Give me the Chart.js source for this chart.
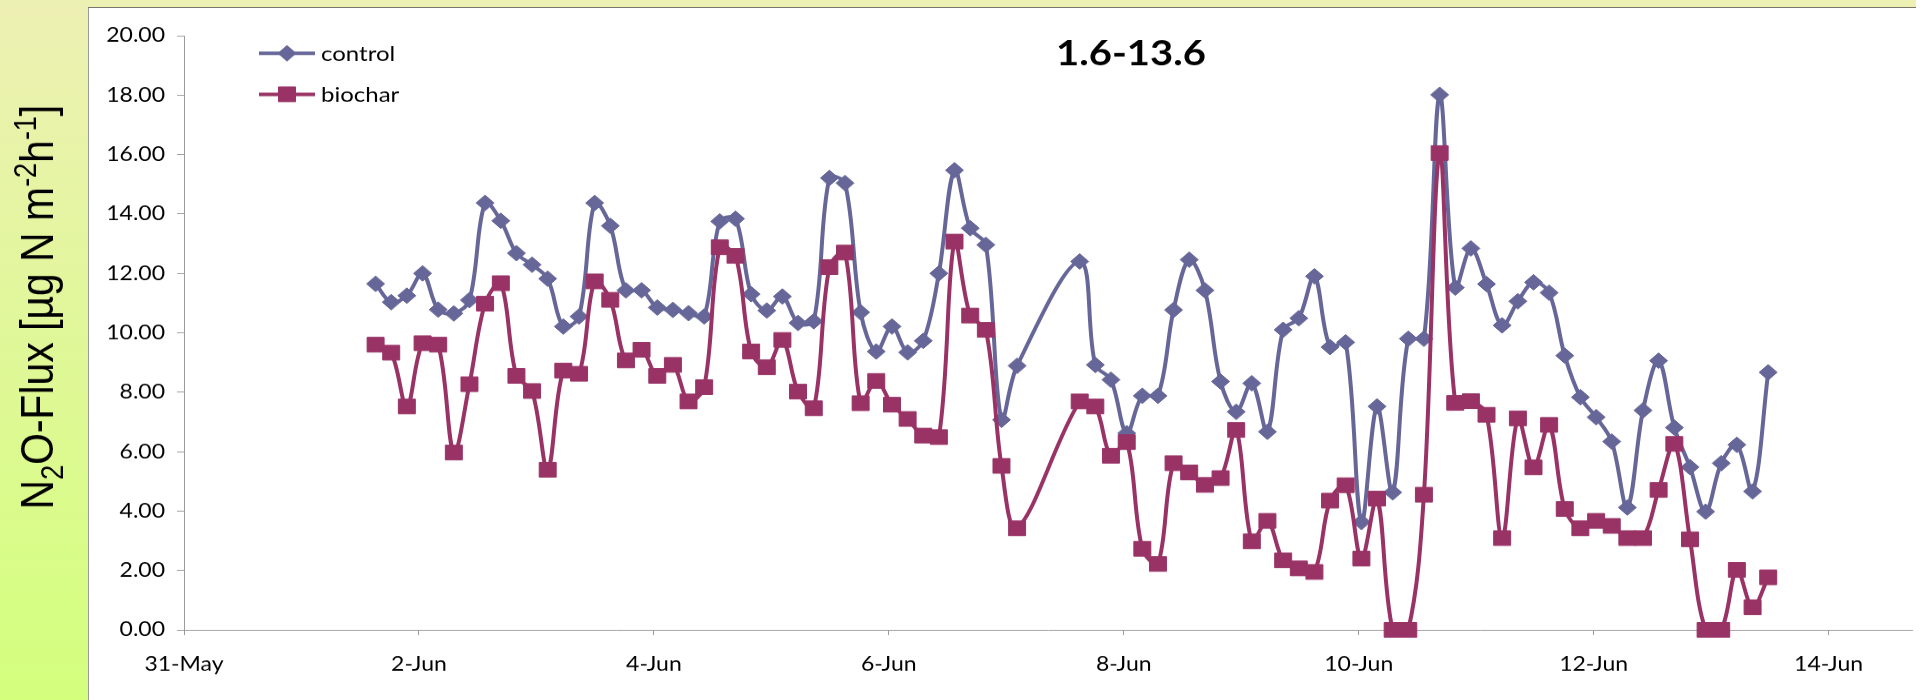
<!DOCTYPE html>
<html>
<head>
<meta charset="utf-8">
<title>N2O flux 1.6-13.6</title>
<script src="https://cdn.jsdelivr.net/npm/chart.js@4.4.1/dist/chart.umd.min.js"></script>
<style>
  html, body { margin: 0; padding: 0; background: #ffffff; width: 1925px; height: 700px; overflow: hidden; }
  #sidePanel { position: absolute; left: 0; top: 0; width: 88px; height: 700px;
               background: linear-gradient(#edf0b3, #d3ff7d); border-right: 1px solid #9a9a9a; }
  #frameTop { position: absolute; left: 88px; top: 0; width: 1828px; height: 7px;
              background: #edf0b3; border-bottom: 1px solid #77776c; }
  /* the plot is laid out on a taller canvas and pressed down to the page height */
  #plotWrap { position: absolute; left: 0; top: 0; width: 1925px; height: 805px;
              transform: scaleY(0.87); transform-origin: 0 0; }
</style>
</head>
<body>
<div id="sidePanel"></div>
<div id="frameTop"></div>
<div id="plotWrap"><canvas id="flux"></canvas></div>
<script>
// Sampling times, in days after 31 May 00:00
const sampleDays = [
  1.631, 1.764, 1.897, 2.031, 2.164, 2.297, 2.430, 2.563, 2.697, 2.830,
  2.963, 3.096, 3.229, 3.363, 3.496, 3.629, 3.762, 3.895, 4.029, 4.162,
  4.295, 4.428, 4.561, 4.695, 4.828, 4.961, 5.094, 5.227, 5.361, 5.494,
  5.627, 5.760, 5.893, 6.027, 6.160, 6.293, 6.426, 6.559, 6.693, 6.826,
  6.959, 7.092, 7.225, 7.359, 7.492, 7.625, 7.758, 7.891, 8.025, 8.158,
  8.291, 8.424, 8.557, 8.691, 8.824, 8.957, 9.090, 9.223, 9.357, 9.490,
  9.623, 9.756, 9.889, 10.023, 10.156, 10.289, 10.422, 10.555, 10.689, 10.822,
  10.955, 11.088, 11.221, 11.355, 11.488, 11.621, 11.754, 11.887, 12.021, 12.154,
  12.287, 12.420, 12.553, 12.687, 12.820, 12.953, 13.086, 13.219, 13.353, 13.486
];

// N2O flux, µg N m-2 h-1 (null = no measurement)
const controlFlux = [
  11.65, 11.03, 11.25, 12.00, 10.78, 10.65, 11.10, 14.37, 13.77, 12.68,
  12.29, 11.82, 10.21, 10.55, 14.37, 13.60, 11.43, 11.43, 10.85, 10.77,
  10.66, 10.55, 13.75, 13.84, 11.30, 10.75, 11.22, 10.33, 10.39, 15.21,
  15.04, 10.69, 9.37, 10.21, 9.34, 9.73, 12.00, 15.47, 13.52, 12.96,
  7.07, 8.89, null, null, null, 12.40, 8.92, 8.42, 6.62, 7.88,
  7.88, 10.77, 12.46, 11.43, 8.36, 7.34, 8.30, 6.67, 10.10, 10.49,
  11.90, 9.52, 9.68, 3.63, 7.52, 4.63, 9.80, 9.80, 18.01, 11.52,
  12.84, 11.64, 10.25, 11.06, 11.70, 11.35, 9.23, 7.83, 7.16, 6.34,
  4.12, 7.39, 9.06, 6.81, 5.48, 3.98, 5.61, 6.23, 4.66, 8.67
];
const biocharFlux = [
  9.60, 9.33, 7.52, 9.65, 9.60, 5.97, 8.27, 10.98, 11.67, 8.55,
  8.04, 5.39, 8.73, 8.62, 11.73, 11.11, 9.07, 9.43, 8.55, 8.92,
  7.69, 8.17, 12.88, 12.59, 9.37, 8.84, 9.76, 8.02, 7.46, 12.21,
  12.70, 7.63, 8.38, 7.58, 7.10, 6.54, 6.49, 13.07, 10.58, 10.10,
  5.52, 3.42, null, null, null, 7.69, 7.52, 5.86, 6.32, 2.73,
  2.22, 5.61, 5.30, 4.88, 5.11, 6.73, 2.98, 3.67, 2.34, 2.07,
  1.95, 4.35, 4.87, 2.40, 4.42, 0.00, 0.00, 4.55, 16.05, 7.64,
  7.70, 7.24, 3.09, 7.12, 5.47, 6.90, 4.07, 3.42, 3.67, 3.50,
  3.09, 3.09, 4.71, 6.26, 3.05, 0.00, 0.00, 2.02, 0.76, 1.77
];

const seriesNames = ['control', 'biochar'];
const seriesColors = ['#666699', '#993366'];
const xTickDays = [0, 2, 4, 6, 8, 10, 12, 14];
const xTickLabels = ['31-May', '2-Jun', '4-Jun', '6-Jun', '8-Jun', '10-Jun', '12-Jun', '14-Jun'];
const chartTitle = '1.6-13.6';

const AXIS_GREY = '#9b9b9b';
const TICK_FONT = { family: 'Lato', size: 23 };
const LINE_WIDTH = 4;

function toPoints(values) {
  return sampleDays.map((d, i) => ({ x: d, y: values[i] }));
}

function diamond(ctx, x, y, r) {
  ctx.beginPath();
  ctx.moveTo(x - r, y); ctx.lineTo(x, y - r); ctx.lineTo(x + r, y); ctx.lineTo(x, y + r);
  ctx.closePath(); ctx.fill(); ctx.stroke();
}
function square(ctx, x, y, h) {
  ctx.beginPath(); ctx.rect(x - h, y - h, 2 * h, 2 * h); ctx.fill(); ctx.stroke();
}

// title, legend and the y-axis caption with its sub-/superscripts
const decorations = {
  id: 'decorations',
  afterDraw(chart) {
    const ctx = chart.ctx;
    ctx.save();

    ctx.fillStyle = '#000';
    ctx.font = 'bold 40px Lato';
    ctx.textAlign = 'center';
    ctx.textBaseline = 'middle';
    ctx.fillText(chartTitle, 1131, 62);

    const rows = [61.3, 108.4];
    seriesNames.forEach((name, i) => {
      const y = rows[i];
      ctx.strokeStyle = seriesColors[i];
      ctx.fillStyle = seriesColors[i];
      ctx.lineWidth = LINE_WIDTH;
      ctx.beginPath(); ctx.moveTo(259, y); ctx.lineTo(315, y); ctx.stroke();
      ctx.lineWidth = 1;
      if (i === 0) diamond(ctx, 287, y, 9); else square(ctx, 287, y, 8.5);
      ctx.fillStyle = '#000';
      ctx.font = '24px Lato';
      ctx.textAlign = 'left';
      ctx.textBaseline = 'middle';
      ctx.fillText(name, 321, y + 1);
    });

    const F = 47, S = 31;
    const parts = [
      ['N', F, 0], ['2', S, 0.22 * F], ['O-Flux [µg N m', F, 0],
      ['-2', S, -0.36 * F], ['h', F, 0], ['-1', S, -0.36 * F], [']', F, 0]
    ];
    let total = 0;
    parts.forEach(p => { ctx.font = p[1] + 'px "Liberation Sans"'; total += ctx.measureText(p[0]).width; });
    ctx.translate(53, 353);
    ctx.rotate(-Math.PI / 2);
    ctx.textAlign = 'left';
    ctx.textBaseline = 'alphabetic';
    ctx.fillStyle = '#000';
    let x = -total / 2;
    parts.forEach(p => {
      ctx.font = p[1] + 'px "Liberation Sans"';
      ctx.fillText(p[0], x, p[2]);
      x += ctx.measureText(p[0]).width;
    });
    ctx.restore();
  }
};

new Chart(document.getElementById('flux'), {
  type: 'line',
  data: {
    datasets: [
      {
        label: seriesNames[0], data: toPoints(controlFlux), order: 1,
        borderColor: seriesColors[0], backgroundColor: seriesColors[0],
        pointStyle: 'rectRot', pointRadius: 9, pointBorderWidth: 1,
        pointBorderColor: seriesColors[0], pointBackgroundColor: seriesColors[0]
      },
      {
        label: seriesNames[1], data: toPoints(biocharFlux), order: 0,
        borderColor: seriesColors[1], backgroundColor: seriesColors[1],
        pointStyle: 'rect', pointRadius: 12, pointBorderWidth: 1,
        pointBorderColor: seriesColors[1], pointBackgroundColor: seriesColors[1]
      }
    ]
  },
  options: {
    responsive: true,
    maintainAspectRatio: false,
    animation: false,
    events: [],
    spanGaps: true,
    clip: false,
    elements: { line: { borderWidth: LINE_WIDTH, tension: 0.35, fill: false } },
    layout: { padding: { left: 89, top: 41, right: 9, bottom: 0 } },
    plugins: { legend: { display: false }, title: { display: false }, tooltip: { enabled: false } },
    scales: {
      x: {
        type: 'linear', min: 0, max: 14.71,
        afterBuildTicks: axis => { axis.ticks = xTickDays.map(v => ({ value: v })); },
        afterFit: axis => { axis.height = 81; },
        ticks: {
          autoSkip: false, maxRotation: 0, padding: 20, color: '#000', font: TICK_FONT,
          callback: (v, i) => xTickLabels[i]
        },
        grid: { display: true, drawOnChartArea: false, drawTicks: true, tickLength: 6, color: AXIS_GREY },
        border: { display: true, color: AXIS_GREY, width: 1 }
      },
      y: {
        type: 'linear', min: 0, max: 20,
        afterFit: axis => { axis.width = 95; },
        ticks: { stepSize: 2, padding: 12, color: '#000', font: TICK_FONT, callback: v => v.toFixed(2) },
        grid: { display: true, drawOnChartArea: false, drawTicks: true, tickLength: 7, color: AXIS_GREY },
        border: { display: true, color: AXIS_GREY, width: 1 }
      }
    }
  },
  plugins: [decorations]
});
</script>
</body>
</html>
